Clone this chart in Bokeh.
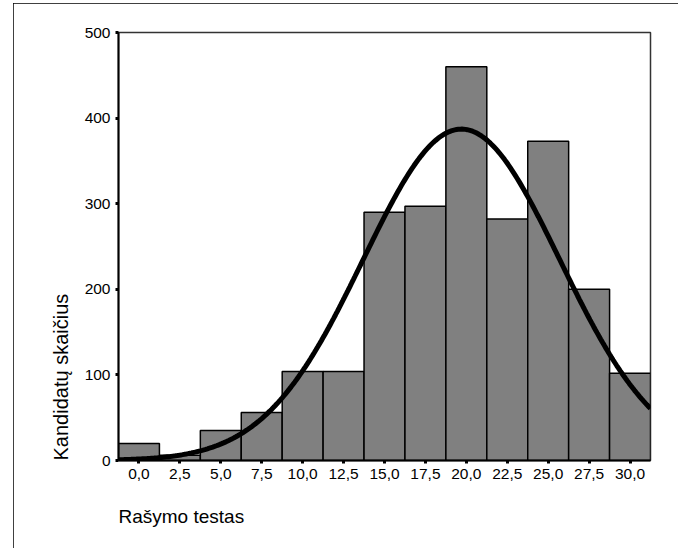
import numpy as np
from bokeh.plotting import figure
from bokeh.models import FixedTicker, Range1d, Title, ColumnDataSource
from bokeh.embed import file_html
from bokeh.resources import INLINE

# Data
bin_centers = [0.0, 2.5, 5.0, 7.5, 10.0, 12.5, 15.0, 17.5, 20.0, 22.5, 25.0, 27.5, 30.0]
counts = [20, 6, 35, 56, 104, 104, 290, 297, 460, 282, 373, 200, 102]
bin_width = 2.5
x_tick_values = [0.0, 2.5, 5.0, 7.5, 10.0, 12.5, 15.0, 17.5, 20.0, 22.5, 25.0, 27.5, 30.0]
x_tick_labels = ["0,0", "2,5", "5,0", "7,5", "10,0", "12,5", "15,0", "17,5", "20,0", "22,5", "25,0", "27,5", "30,0"]
y_tick_values = [0, 100, 200, 300, 400, 500]
x_label = "Rašymo testas"
y_label = "Kandidatų skaičius"
# fitted normal curve parameters
curve_mean = 19.7
curve_sd = 6.0

FONT = "Liberation Sans"

x_lo = bin_centers[0] - bin_width / 2
x_hi = bin_centers[-1] + bin_width / 2

p = figure(width=665, height=545, output_backend="svg", toolbar_location=None,
           x_range=Range1d(x_lo, x_hi), y_range=Range1d(0, 500),
           min_border_left=105, min_border_right=28, min_border_top=29, min_border_bottom=88)
p.styles = {"outline": "2px solid black", "outline-offset": "-2px",
            "margin-left": "13px", "margin-top": "3px"}

p.background_fill_color = "white"
p.border_fill_color = "white"
p.outline_line_color = "#333333"
p.outline_line_width = 1.5
p.xgrid.visible = False
p.ygrid.visible = False

src = ColumnDataSource(dict(x=bin_centers, top=counts))
p.vbar(x="x", top="top", bottom=0, width=bin_width, source=src,
       fill_color="#808080", line_color="black", line_width=1.5)

n_total = sum(counts)
xs = np.linspace(x_lo, x_hi, 300)
ys = n_total * bin_width / (curve_sd * np.sqrt(2 * np.pi)) * np.exp(-0.5 * ((xs - curve_mean) / curve_sd) ** 2)
p.line(xs, ys, line_color="black", line_width=5)

for ax in (p.xaxis[0], p.yaxis[0]):
    ax.axis_line_color = "black"
    ax.axis_line_width = 2
    ax.major_tick_line_color = "black"
    ax.major_tick_line_width = 3
    ax.major_tick_in = 0
    ax.major_tick_out = 3
    ax.minor_tick_line_color = None
    ax.major_label_text_font = FONT
    ax.major_label_text_font_size = "15.5px"
    ax.major_label_text_color = "black"
    ax.major_label_standoff = 5

p.xaxis[0].ticker = FixedTicker(ticks=x_tick_values)
p.xaxis[0].major_label_overrides = {v: s for v, s in zip(x_tick_values, x_tick_labels)}
p.yaxis[0].ticker = FixedTicker(ticks=y_tick_values)

xt = Title(text=x_label, align="left", text_font=FONT, text_font_size="19px",
           text_font_style="normal", text_color="black", standoff=44)
p.add_layout(xt, "below")
yt = Title(text=y_label, align="left", text_font=FONT, text_font_size="20px",
           text_font_style="normal", text_color="black", standoff=19)
p.add_layout(yt, "left")

open("out.html", "w").write(file_html(p, INLINE))
